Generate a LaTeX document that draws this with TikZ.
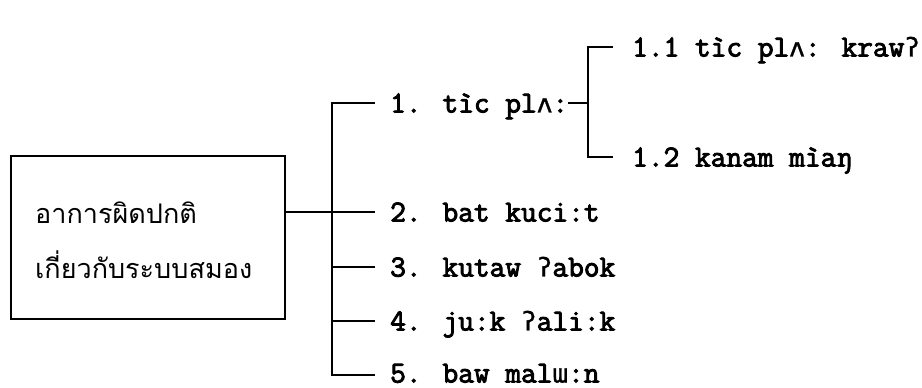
\documentclass[tikz,border=0pt]{standalone}
\usepackage{fontspec}
\newfontfamily\lmtt[FakeBold=3]{Latin Modern Mono}
\newfontfamily\ipaf[FakeBold=1]{DejaVu Sans Mono}
\newfontfamily\thaifont[Script=Thai]{Loma}
\newcommand\ipac[1]{{\ipaf\fontsize{26}{26}\selectfont #1}}
\begin{document}
\begin{tikzpicture}[x=1pt,y=1pt,
  ln/.style={line width=1.6pt},
  item/.style={anchor=base west,inner sep=0pt,font=\lmtt\fontsize{30.5}{30.5}\selectfont},
  thai/.style={anchor=west,inner sep=0pt,font=\thaifont\fontsize{27}{27}\selectfont}]
\useasboundingbox (0,0) rectangle (922,388);
\node[draw,ln,minimum width=274pt,minimum height=163pt,anchor=south west,inner sep=0pt] (box) at (10,68) {};
\node[thai] (th1) at (35,175) {อาการผิดปกติ};
\node[thai] (th2) at (35,123) {เกี่ยวกับระบบสมอง};
\node[item] (i1) at (390,275.5) {1. tìc pl\ipac{ʌ}:};
\node[item] (i2) at (390,166.5) {2. bat kuci:t};
\node[item] (i3) at (390,111.5) {3. kutaw \ipac{ʔ}abok};
\node[item] (i4) at (390,57.5) {4. ju:k \ipac{ʔ}ali:k};
\node[item] (i5) at (390,5.5) {5. baw mal\ipac{ɯ}:n};
\node[item] (s1) at (632,331.5) {1.1 tìc pl\ipac{ʌ}: kraw\ipac{ʔ}};
\node[item] (s2) at (632,221.5) {1.2 kanam mìaŋ};
\coordinate (tr) at (332,0);
\coordinate (st) at (588,0);
\coordinate (y1) at (0,285);
\coordinate (y2) at (0,176);
\coordinate (y3) at (0,121);
\coordinate (y4) at (0,67);
\coordinate (y5) at (0,13);
\coordinate (ys1) at (0,341);
\coordinate (ys2) at (0,231);
\draw[ln] ([xshift=-15pt]i1.west |- y1) -| (tr |- y5) -- ([xshift=-15pt]i5.west |- y5);
\draw[ln] (box.east |- y2) -- ([xshift=-15pt]i2.west |- y2);
\draw[ln] (tr |- y3) -- ([xshift=-15pt]i3.west |- y3);
\draw[ln] (tr |- y4) -- ([xshift=-15pt]i4.west |- y4);
\draw[ln] ([xshift=-19pt]s1.west |- ys1) -| (st |- ys2) -- ([xshift=-19pt]s2.west |- ys2);
\draw[ln] (i1.east |- y1) -- (st |- y1);
\end{tikzpicture}
\end{document}
